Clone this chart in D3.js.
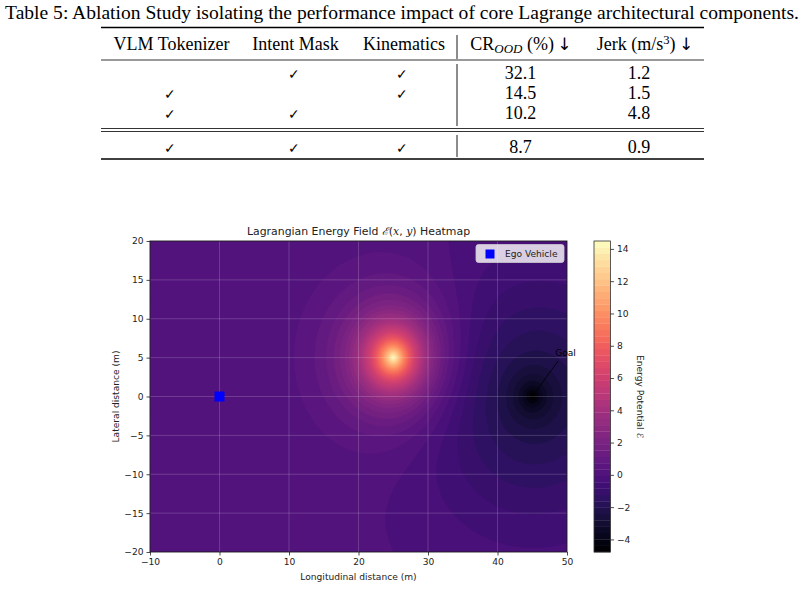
<!DOCTYPE html>
<html><head><meta charset="utf-8">
<script src="https://cdn.jsdelivr.net/npm/d3@7"></script>
<style>body{margin:0;background:#fff;} svg{display:block;}</style>
</head><body>
<svg id="c" width="804" height="612"></svg>
<script>
// ---------------- table data ----------------
const captionText = "Table 5: Ablation Study isolating the performance impact of core Lagrange architectural components.";
const componentNames = ["VLM Tokenizer", "Intent Mask", "Kinematics"];
const useTokenizer  = [false, true,  true,  true];
const useIntentMask = [true,  false, true,  true];
const useKinematics = [true,  true,  false, true];
const crOOD = ["32.1", "14.5", "10.2", "8.7"];
const jerk  = ["1.2", "1.5", "4.8", "0.9"];

// ---------------- chart data ----------------
const chartTitle = ["Lagrangian Energy Field ", "ℰ", "(", "x", ", ", "y", ") Heatmap"];
const xLabel = "Longitudinal distance (m)";
const yLabel = "Lateral distance (m)";
const cbLabel = "Energy Potential ℰ";
const xTicks = [-10, 0, 10, 20, 30, 40, 50];
const yTicks = [-20, -15, -10, -5, 0, 5, 10, 15, 20];
const cbTicks = [-4, -2, 0, 2, 4, 6, 8, 10, 12, 14];
const xDomain = [-10, 50];
const yDomain = [-20, 20];
// field components: obstacle peak, goal well (sharp core + broad tail)
const sourceNames = ["Obstacle", "Goal core", "Goal tail"];
const sourceX = [25, 45, 45];
const sourceY = [5, 0, 0];
const sourceAmp = [15, -2.8, -2.2];
const sourceWidth = [3.8, 2.2, 11];
const sourceShape = ["exp", "exp", "gauss"];
const energyRange = [-4.78, 14.49];
const nLevels = 50;
const egoX = [0], egoY = [0];
const egoLabel = "Ego Vehicle";
const goalLabel = "Goal";
const goalText = [48.3, 5.6];

const svg = d3.select("#c");
const serif = "'Liberation Serif', 'Times New Roman', serif";
const sans = "'DejaVu Sans', sans-serif";

// ---------- table ----------
const cap = svg.append("text").attr("x", 402).attr("y", 19).attr("text-anchor", "middle")
  .attr("font-family", serif).attr("font-size", 18).text(captionText);
{ const w = cap.node().getComputedTextLength(); cap.attr("font-size", 18 * 794 / w); }

const tL = 101, tR = 704;
const rule = (y, w) => svg.append("line").attr("x1", tL).attr("x2", tR).attr("y1", y).attr("y2", y)
  .attr("stroke", "#000").attr("stroke-width", w);
rule(27.5, 1.6); rule(60, 0.8); rule(128.5, 0.8); rule(131.5, 0.8); rule(159, 1.6);
const vbar = (y1, y2) => svg.append("line").attr("x1", 457).attr("x2", 457).attr("y1", y1).attr("y2", y2)
  .attr("stroke", "#000").attr("stroke-width", 0.9);
vbar(35, 59); vbar(64, 126); vbar(135, 157);

const probe = svg.append("text").attr("font-family", serif).attr("font-size", 16).text(componentNames[0]);
const tfs = 16 * 116 / probe.node().getComputedTextLength();
probe.remove();

const colX = [171.5, 295.5, 404];
const valX = [520.5, 639];
const hdrY = 50;
componentNames.forEach((n, i) => {
  svg.append("text").attr("x", colX[i]).attr("y", hdrY).attr("text-anchor", "middle")
    .attr("font-family", serif).attr("font-size", tfs).text(n);
});
{
  const t = svg.append("text").attr("x", 521).attr("y", hdrY).attr("text-anchor", "middle")
    .attr("font-family", serif).attr("font-size", tfs);
  t.append("tspan").text("CR");
  t.append("tspan").attr("font-style", "italic").attr("font-size", tfs * 0.72).attr("dy", 3).text("OOD");
  t.append("tspan").attr("dy", -3).text(" (%)");
  t.append("tspan").attr("font-family", sans).attr("font-size", tfs * 0.95).text("\u2009↓");
  const j = svg.append("text").attr("x", 645).attr("y", hdrY).attr("text-anchor", "middle")
    .attr("font-family", serif).attr("font-size", tfs);
  j.append("tspan").text("Jerk (m/s");
  j.append("tspan").attr("font-size", tfs * 0.7).attr("dy", -6).text("3");
  j.append("tspan").attr("dy", 6).text(")");
  j.append("tspan").attr("font-family", sans).attr("font-size", tfs * 0.95).text("\u2009↓");
}
const rowY = [78.5, 99, 118.5, 152.5];
const flags = [useTokenizer, useIntentMask, useKinematics];
rowY.forEach((y, r) => {
  flags.forEach((f, c) => {
    if (f[r]) svg.append("text").attr("x", colX[c] - 2).attr("y", y).attr("text-anchor", "middle")
      .attr("font-family", "'DejaVu Sans'").attr("font-weight", 200).attr("font-size", tfs * 0.8).text("✓");
  });
  svg.append("text").attr("x", valX[0]).attr("y", y).attr("text-anchor", "middle")
    .attr("font-family", serif).attr("font-size", tfs).text(crOOD[r]);
  svg.append("text").attr("x", valX[1]).attr("y", y).attr("text-anchor", "middle")
    .attr("font-family", serif).attr("font-size", tfs).text(jerk[r]);
});

// ---------- heatmap ----------
const pL = 150, pR = 567, pT = 241, pB = 552;
const x = d3.scaleLinear().domain(xDomain).range([pL, pR]);
const y = d3.scaleLinear().domain(yDomain).range([pB, pT]);
const fs = 9.1;

const n = 300, m = 200;
const dx = (xDomain[1] - xDomain[0]) / n, dy = (yDomain[1] - yDomain[0]) / m;
const values = new Float64Array(n * m);
for (let j = 0; j < m; j++) {
  const yy = yDomain[1] - (j + 0.5) * dy;
  for (let i = 0; i < n; i++) {
    const xx = xDomain[0] + (i + 0.5) * dx;
    let v = 0;
    for (let k = 0; k < sourceX.length; k++) {
      const r = Math.hypot(xx - sourceX[k], yy - sourceY[k]);
      const q = r / sourceWidth[k];
      v += sourceAmp[k] * (sourceShape[k] === "exp" ? Math.exp(-q) : Math.exp(-0.5 * q * q));
    }
    values[i + j * n] = v;
  }
}
const levels = d3.range(nLevels).map(k => energyRange[0] + k * (energyRange[1] - energyRange[0]) / (nLevels - 1));
const bandColor = k => d3.interpolateMagma((k + 0.5) / (nLevels - 1));

svg.append("clipPath").attr("id", "pc").append("rect").attr("x", pL).attr("y", pT).attr("width", pR - pL).attr("height", pB - pT);
const g = svg.append("g").attr("clip-path", "url(#pc)");
const proj = d3.geoTransform({ point: function (cx, cy) {
  this.stream.point(x(xDomain[0] + cx * dx), y(yDomain[1] - cy * dy));
}});
const path = d3.geoPath(proj);
const contours = d3.contours().size([n, m]).thresholds(levels.slice(0, -1))(values);
g.append("rect").attr("x", pL).attr("y", pT).attr("width", pR - pL).attr("height", pB - pT).attr("fill", bandColor(0));
contours.forEach((c, k) => {
  g.append("path").attr("d", path(c)).attr("fill", bandColor(k)).attr("stroke", bandColor(k)).attr("stroke-width", 0.3);
});

// grid
const grid = svg.append("g").attr("stroke", "#fff").attr("stroke-opacity", 0.22).attr("stroke-width", 0.8);
xTicks.forEach(t => grid.append("line").attr("x1", x(t)).attr("x2", x(t)).attr("y1", pT).attr("y2", pB));
yTicks.forEach(t => grid.append("line").attr("y1", y(t)).attr("y2", y(t)).attr("x1", pL).attr("x2", pR));

// ego vehicle
svg.selectAll(".ego").data(egoX).enter().append("rect")
  .attr("x", (d, i) => x(d) - 5).attr("y", (d, i) => y(egoY[i]) - 5).attr("width", 10).attr("height", 10).attr("fill", "#0000ff");

// goal annotation
svg.append("line").attr("x1", x(goalText[0]) + 3).attr("y1", y(goalText[1]) + 8)
  .attr("x2", x(sourceX[1])).attr("y2", y(sourceY[1])).attr("stroke", "#000").attr("stroke-width", 0.8);
svg.append("text").attr("x", x(goalText[0])).attr("y", y(goalText[1]) + 3).attr("font-family", sans)
  .attr("font-size", fs).attr("fill", "#000").text(goalLabel);

// axes
const ax = svg.append("g").attr("transform", `translate(0,${pB})`)
  .call(d3.axisBottom(x).tickValues(xTicks).tickSize(3.5).tickPadding(3).tickFormat(d => String(d).replace("-", "−")));
const ay = svg.append("g").attr("transform", `translate(${pL},0)`)
  .call(d3.axisLeft(y).tickValues(yTicks).tickSize(3.5).tickPadding(3).tickFormat(d => String(d).replace("-", "−")));
[ax, ay].forEach(a => {
  a.select(".domain").remove();
  a.selectAll("text").attr("font-family", sans).attr("font-size", fs).attr("fill", "#222");
  a.selectAll("line").attr("stroke", "#222").attr("stroke-width", 0.8);
});
svg.append("rect").attr("x", pL).attr("y", pT).attr("width", pR - pL).attr("height", pB - pT)
  .attr("fill", "none").attr("stroke", "#000").attr("stroke-width", 0.8);

svg.append("text").attr("x", (pL + pR) / 2).attr("y", 580).attr("text-anchor", "middle")
  .attr("font-family", sans).attr("font-size", fs).attr("fill", "#222").text(xLabel);
svg.append("text").attr("transform", `translate(119,${(pT + pB) / 2}) rotate(-90)`).attr("text-anchor", "middle")
  .attr("font-family", sans).attr("font-size", fs).attr("fill", "#222").text(yLabel);

// title
{
  const t = svg.append("text").attr("x", (pL + pR) / 2).attr("y", 235).attr("text-anchor", "middle")
    .attr("font-family", sans).attr("font-size", 10.9).attr("fill", "#222");
  chartTitle.forEach((s, i) => {
    const ts = t.append("tspan").text(s);
    if (s === "x" || s === "y" || s === "ℰ") ts.attr("font-style", "italic").attr("font-family", "'DejaVu Serif', serif");
  });
}

// legend
{
  const lg = svg.append("g");
  lg.append("rect").attr("x", 476).attr("y", 244.5).attr("width", 88).attr("height", 18).attr("rx", 2.5)
    .attr("fill", "#fff").attr("fill-opacity", 0.8).attr("stroke", "#ccc").attr("stroke-width", 0.8);
  lg.append("rect").attr("x", 485.5).attr("y", 249.5).attr("width", 9).attr("height", 9).attr("fill", "#0000ff");
  lg.append("text").attr("x", 505).attr("y", 257).attr("font-family", sans).attr("font-size", fs).attr("fill", "#222").text(egoLabel);
}

// colorbar
{
  const cL = 594, cW = 16.5;
  const cy = d3.scaleLinear().domain(energyRange).range([pB, pT]);
  const cb = svg.append("g");
  d3.range(nLevels - 1).forEach(k => {
    cb.append("rect").attr("x", cL).attr("width", cW)
      .attr("y", cy(levels[k + 1])).attr("height", cy(levels[k]) - cy(levels[k + 1]) + 0.3)
      .attr("fill", bandColor(k));
  });
  cb.append("rect").attr("x", cL).attr("y", pT).attr("width", cW).attr("height", pB - pT)
    .attr("fill", "none").attr("stroke", "#333").attr("stroke-width", 0.8);
  const ca = svg.append("g").attr("transform", `translate(${cL + cW},0)`)
    .call(d3.axisRight(cy).tickValues(cbTicks).tickSize(3.5).tickPadding(3).tickFormat(d => String(d).replace("-", "−")));
  ca.select(".domain").remove();
  ca.selectAll("text").attr("font-family", sans).attr("font-size", fs).attr("fill", "#222");
  ca.selectAll("line").attr("stroke", "#222").attr("stroke-width", 0.8);
  svg.append("text").attr("transform", `translate(637,${(pT + pB) / 2}) rotate(90)`).attr("text-anchor", "middle")
    .attr("font-family", sans).attr("font-size", fs).attr("fill", "#222").text(cbLabel);
}
</script>
</body></html>
